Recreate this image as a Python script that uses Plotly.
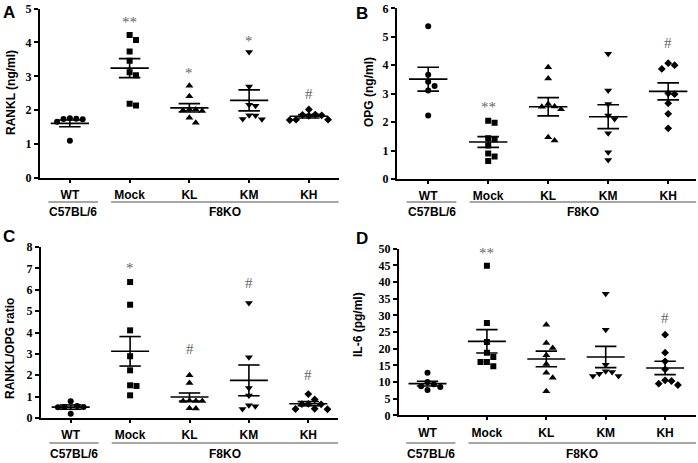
import plotly.graph_objects as go

W, H = 698, 463

groups = ["WT", "Mock", "KL", "KM", "KH"]
symbols = ["circle", "square", "triangle-up", "triangle-down", "diamond"]
marker_sizes = [6, 6, 7, 7, 6]
strains = ["C57BL/6", "F8KO"]

# ---- Panel A: RANKL (ng/ml)
rankl_values = [
    [1.75, 1.74, 1.66, 1.73, 1.76, 1.10],
    [4.22, 4.07, 3.73, 3.46, 3.12, 3.03, 2.19, 2.14],
    [2.72, 2.41, 2.02, 2.00, 1.98, 2.02, 1.78, 1.63],
    [3.72, 2.70, 2.16, 2.13, 1.85, 1.84, 1.74, 1.73],
    [2.02, 1.87, 1.86, 1.85, 1.83, 1.72, 1.71, 1.72],
]
rankl_mean = [1.61, 3.24, 2.07, 2.29, 1.82]
rankl_sem = [0.10, 0.28, 0.125, 0.31, 0.05]
rankl_sig = ["", "**", "*", "*", "#"]
rankl_sig_y = [0, 4.71, 3.21, 4.17, 2.49]

# ---- Panel B: OPG (ng/ml)
opg_values = [
    [5.37, 3.66, 3.42, 3.27, 3.11, 2.23],
    [2.05, 1.98, 1.43, 1.40, 1.18, 0.90, 0.79, 0.63],
    [3.93, 3.53, 2.64, 2.54, 2.45, 2.55, 1.47, 1.35],
    [4.40, 3.11, 2.64, 2.23, 2.11, 1.61, 0.94, 0.67],
    [4.07, 4.00, 3.87, 3.01, 2.98, 2.66, 2.29, 1.78],
]
opg_mean = [3.51, 1.30, 2.54, 2.19, 3.08]
opg_sem = [0.42, 0.19, 0.32, 0.42, 0.30]
opg_sig = ["", "**", "", "", "#"]
opg_sig_y = [0, 2.68, 0, 0, 4.77]

# ---- Panel C: RANKL/OPG ratio
ratio_values = [
    [0.78, 0.52, 0.50, 0.51, 0.56, 0.20],
    [6.36, 5.30, 4.10, 2.89, 2.23, 1.53, 1.50, 1.06],
    [2.00, 1.64, 0.80, 0.81, 0.79, 0.80, 0.44, 0.46],
    [5.38, 2.84, 1.40, 1.05, 0.60, 0.55, 0.42],
    [1.12, 0.87, 0.66, 0.65, 0.64, 0.43, 0.42, 0.41],
]
ratio_mean = [0.51, 3.12, 0.98, 1.76, 0.67]
ratio_sem = [0.10, 0.69, 0.19, 0.72, 0.10]
ratio_sig = ["", "*", "#", "#", "#"]
ratio_sig_y = [0, 7.22, 3.21, 6.33, 2.00]

# ---- Panel D: IL-6 (pg/ml)
il6_values = [
    [12.8, 10.0, 9.3, 8.7, 7.6, 8.5],
    [44.9, 27.7, 22.0, 18.8, 17.5, 16.0, 16.0, 14.7],
    [27.2, 21.7, 20.2, 18.0, 15.4, 12.8, 11.3, 7.2],
    [36.5, 25.7, 15.2, 13.2, 13.0, 12.5, 11.8, 11.8],
    [24.2, 18.8, 16.2, 13.8, 10.5, 10.3, 9.5, 9.1],
]
il6_mean = [9.5, 22.2, 16.9, 17.5, 14.2]
il6_sem = [0.7, 3.5, 2.35, 3.2, 2.0]
il6_sig = ["", "**", "", "", "#"]
il6_sig_y = [0, 49.8, 0, 0, 29.2]

# layout of panels (pixel geometry)
panels = [
    dict(letter="A", title="RANKL (ng/ml)", vals=rankl_values, mean=rankl_mean, sem=rankl_sem,
         sig=rankl_sig, sigy=rankl_sig_y, xpx=(40, 338.75), xr=(-0.5, 4.5), ypx=(178, 8.5),
         yr=(0, 5), dtick=1, letter_xy=(9, 12), title_xy=(11, 93), catline_y=202, strain_y=212),
    dict(letter="B", title="OPG (ng/ml)", vals=opg_values, mean=opg_mean, sem=opg_sem,
         sig=opg_sig, sigy=opg_sig_y, xpx=(397, 696.4), xr=(-0.52, 4.47), ypx=(179, 8.3),
         yr=(0, 6), dtick=1, letter_xy=(362, 13), title_xy=(369, 92), catline_y=202, strain_y=212),
    dict(letter="C", title="RANKL/OPG ratio", vals=ratio_values, mean=ratio_mean, sem=ratio_sem,
         sig=ratio_sig, sigy=ratio_sig_y, xpx=(41, 338), xr=(-0.5, 4.5), ypx=(418, 247),
         yr=(0, 8), dtick=1, letter_xy=(9, 236), title_xy=(10, 349), catline_y=443, strain_y=454),
    dict(letter="D", title="IL-6 (pg/ml)", vals=il6_values, mean=il6_mean, sem=il6_sem,
         sig=il6_sig, sigy=il6_sig_y, xpx=(399, 696), xr=(-0.48, 4.52), ypx=(415.3, 248.7),
         yr=(0, 50), dtick=5, letter_xy=(362, 238), title_xy=(358, 325), catline_y=443, strain_y=454),
]


def swarm(vals, ypx_per_unit, xpx_per_cat, step=6.4, diam=6.2):
    order = sorted(range(len(vals)), key=lambda i: vals[i], reverse=True)
    cands = [0] + [s * j for j in range(1, 25) for s in (1, -1)]
    placed = []
    off = [0.0] * len(vals)
    for i in order:
        y = vals[i] * ypx_per_unit
        for k in cands:
            x = k * step
            if all((x - px) ** 2 + (y - py) ** 2 >= diam ** 2 for px, py in placed):
                break
        placed.append((x, y))
        off[i] = x / xpx_per_cat
    return off


fig = go.Figure()
annotations = []
shapes = []
sans = "Liberation Sans, Arial, sans-serif"
serif = "Liberation Serif, Times New Roman, serif"

for p, P in enumerate(panels):
    sfx = "" if p == 0 else str(p + 1)
    xa, ya = "x" + sfx, "y" + sfx
    x0, x1 = P["xpx"]
    ybot, ytop = P["ypx"]
    xppc = (x1 - x0) / (P["xr"][1] - P["xr"][0])
    yppu = (ybot - ytop) / (P["yr"][1] - P["yr"][0])

    # error bars (mean +/- SEM)
    ex, ey = [], []
    for i, (m, s) in enumerate(zip(P["mean"], P["sem"])):
        ex += [i - 0.32, i + 0.32, None, i, i, None,
               i - 0.18, i + 0.18, None, i - 0.18, i + 0.18, None]
        ey += [m, m, None, m - s, m + s, None,
               m + s, m + s, None, m - s, m - s, None]
    fig.add_trace(go.Scatter(x=ex, y=ey, mode="lines", xaxis=xa, yaxis=ya,
                             line=dict(color="black", width=1.6), hoverinfo="skip"))

    for i, vals in enumerate(P["vals"]):
        off = swarm(vals, yppu, xppc)
        fig.add_trace(go.Scatter(
            x=[i + o for o in off], y=vals, mode="markers", xaxis=xa, yaxis=ya,
            marker=dict(symbol=symbols[i], size=marker_sizes[i], color="black",
                        line=dict(width=0)),
            name=groups[i]))

    fig.layout["xaxis" + sfx] = dict(
        domain=[x0 / W, x1 / W], range=list(P["xr"]), anchor=ya, automargin=False,
        tickmode="array", tickvals=list(range(5)), ticktext=groups,
        showline=True, linecolor="black", linewidth=2, ticks="outside",
        ticklen=3, tickwidth=1.5, tickcolor="black", showgrid=False, zeroline=False,
        ticklabelstandoff=2,
        tickfont=dict(family=sans, size=12, color="black", weight="bold"), fixedrange=True)
    fig.layout["yaxis" + sfx] = dict(
        domain=[1 - ybot / H, 1 - ytop / H], range=list(P["yr"]), anchor=xa, automargin=False,
        dtick=P["dtick"], tick0=0, showline=True, linecolor="black", linewidth=2,
        ticks="outside", ticklen=4, tickwidth=1.5, tickcolor="black",
        showgrid=False, zeroline=False,
        tickfont=dict(family=serif, size=12, color="black", weight="bold"), fixedrange=True)

    # significance marks
    for i, (t, yv) in enumerate(zip(P["sig"], P["sigy"])):
        if t:
            annotations.append(dict(
                x=i, y=yv, xref=xa, yref=ya, text=t, showarrow=False,
                xanchor="center", yanchor="middle",
                yshift=-4 if "*" in t else 0,
                font=dict(family=serif, size=15, color="#666666")))

    # strain grouping lines + labels
    ly = 1 - P["catline_y"] / H
    for (a, b), lab in zip([(-0.36, 0.47), (0.69, P["xr"][1])], strains):
        shapes.append(dict(type="line", xref=xa, yref="paper", x0=a, x1=b, y0=ly, y1=ly,
                           line=dict(color="#8a8a8a", width=1.5)))
        annotations.append(dict(
            x=(a + b) / 2, y=1 - P["strain_y"] / H, xref=xa, yref="paper", text=lab,
            showarrow=False, xanchor="center", yanchor="middle",
            font=dict(family=sans, size=12, color="black", weight="bold")))

    # y title
    tx, ty = P["title_xy"]
    annotations.append(dict(x=tx / W, y=1 - ty / H, xref="paper", yref="paper",
                            text=P["title"], textangle=-90, showarrow=False,
                            xanchor="center", yanchor="middle",
                            font=dict(family=sans, size=12, color="black", weight="bold")))
    # panel letter
    lx, lyy = P["letter_xy"]
    annotations.append(dict(x=lx / W, y=1 - lyy / H, xref="paper", yref="paper",
                            text=P["letter"], showarrow=False,
                            xanchor="center", yanchor="middle",
                            font=dict(family=sans, size=17, color="black", weight="bold")))

fig.update_layout(width=W, height=H, margin=dict(l=0, r=0, t=0, b=0, autoexpand=False),
                  paper_bgcolor="white", plot_bgcolor="white", showlegend=False,
                  hovermode=False, annotations=annotations, shapes=shapes)

fig.write_html("out.html", config={"displayModeBar": False},
               post_script="document.body.style.margin='0';document.body.style.overflow='hidden';")
